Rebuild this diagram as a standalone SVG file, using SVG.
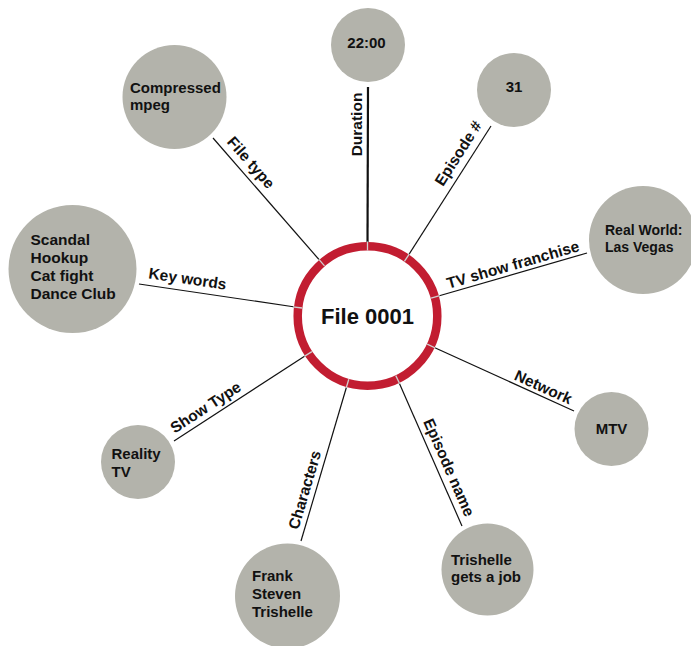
<svg xmlns="http://www.w3.org/2000/svg" width="691" height="646" viewBox="0 0 691 646">
<style>
.node circle{fill:#b3b3ab}
.node text{font-family:"Liberation Sans",Arial,sans-serif;font-weight:bold;font-size:15px;fill:#111}
.edges line{stroke:#111;stroke-width:1.2}
.lbl{font-family:"Liberation Sans",Arial,sans-serif;font-weight:bold;font-size:15.5px;fill:#111;text-anchor:middle}
.gap{stroke:#d0d0d0;stroke-width:1.3}
</style>
<rect width="691" height="646" fill="#fff"/>
<g id="edges" class="edges">
<line x1="368" y1="87" x2="367.5" y2="246" style="stroke-width:2.2"/>
<line x1="213" y1="138" x2="322" y2="263"/>
<line x1="491" y1="126" x2="406" y2="259"/>
<line x1="587" y1="253" x2="435" y2="297"/>
<line x1="139" y1="284" x2="295" y2="307"/>
<line x1="174" y1="441" x2="308" y2="354"/>
<line x1="301" y1="541" x2="348" y2="382"/>
<line x1="574" y1="411" x2="431" y2="346"/>
<line x1="462" y1="526" x2="397" y2="378"/>
<text class="lbl" transform="translate(361.5,124.5) rotate(-90)">Duration</text>
<text class="lbl" transform="translate(247,166) rotate(48.9)">File type</text>
<text class="lbl" transform="translate(462.7,156.2) rotate(-57.4)">Episode #</text>
<text class="lbl" transform="translate(514.4,269.8) rotate(-16.1)">TV show franchise</text>
<text class="lbl" transform="translate(186.8,284) rotate(8.4)">Key words</text>
<text class="lbl" transform="translate(208.5,411.7) rotate(-33)">Show Type</text>
<text class="lbl" transform="translate(309.8,491.4) rotate(-73.5)">Characters</text>
<text class="lbl" transform="translate(541.2,392) rotate(24.4)">Network</text>
<text class="lbl" transform="translate(444.2,469.5) rotate(66.3)">Episode name</text>
</g>
<g id="center">
<circle cx="367.5" cy="316" r="69.8" fill="#fff" stroke="#c21d31" stroke-width="8.5"/>
<line class="gap" x1="367.5" y1="250.5" x2="367.5" y2="241.5"/>
<line class="gap" x1="324.5" y1="265.9" x2="318.7" y2="259.1"/>
<line class="gap" x1="404.4" y1="261.3" x2="409.4" y2="253.8"/>
<line class="gap" x1="431.1" y1="298.1" x2="439.7" y2="295.7"/>
<line class="gap" x1="302.0" y1="308.0" x2="293.0" y2="306.9"/>
<line class="gap" x1="311.9" y1="351.6" x2="304.3" y2="356.4"/>
<line class="gap" x1="348.8" y1="379.3" x2="346.2" y2="387.9"/>
<line class="gap" x1="427.2" y1="344.2" x2="435.3" y2="348.0"/>
<line class="gap" x1="395.8" y1="375.6" x2="399.7" y2="383.7"/>
<text x="367.5" y="324" text-anchor="middle" style="font-family:'Liberation Sans',Arial,sans-serif;font-weight:bold;font-size:22px;fill:#111">File 0001</text>
</g>
<g id="n-duration" class="node"><circle cx="368" cy="45" r="37"/><text x="366.5" y="48" text-anchor="middle">22:00</text></g>
<g id="n-filetype" class="node"><circle cx="174.5" cy="97" r="52"/><text x="130" y="93">Compressed</text><text x="130" y="110">mpeg</text></g>
<g id="n-episodenum" class="node"><circle cx="514" cy="90" r="37"/><text x="514" y="92" text-anchor="middle">31</text></g>
<g id="n-franchise" class="node"><circle cx="643" cy="240" r="54"/><text x="605" y="235" style="font-size:14px">Real World:</text><text x="605" y="252" style="font-size:14px">Las Vegas</text></g>
<g id="n-keywords" class="node"><circle cx="72.5" cy="269" r="64"/><text x="30.5" y="245" style="font-size:15.5px">Scandal</text><text x="30.5" y="263" style="font-size:15.5px">Hookup</text><text x="30.5" y="281" style="font-size:15.5px">Cat fight</text><text x="30.5" y="299" style="font-size:15.5px">Dance Club</text></g>
<g id="n-showtype" class="node"><circle cx="138" cy="462" r="37"/><text x="111.5" y="459">Reality</text><text x="111.5" y="477">TV</text></g>
<g id="n-characters" class="node"><circle cx="287.5" cy="596" r="52.5"/><text x="252" y="581">Frank</text><text x="252" y="599">Steven</text><text x="252" y="617">Trishelle</text></g>
<g id="n-network" class="node"><circle cx="611.5" cy="429" r="37"/><text x="611.5" y="434" text-anchor="middle">MTV</text></g>
<g id="n-episodename" class="node"><circle cx="487.5" cy="569.5" r="46"/><text x="451" y="565">Trishelle</text><text x="451" y="582">gets a job</text></g>
</svg>
